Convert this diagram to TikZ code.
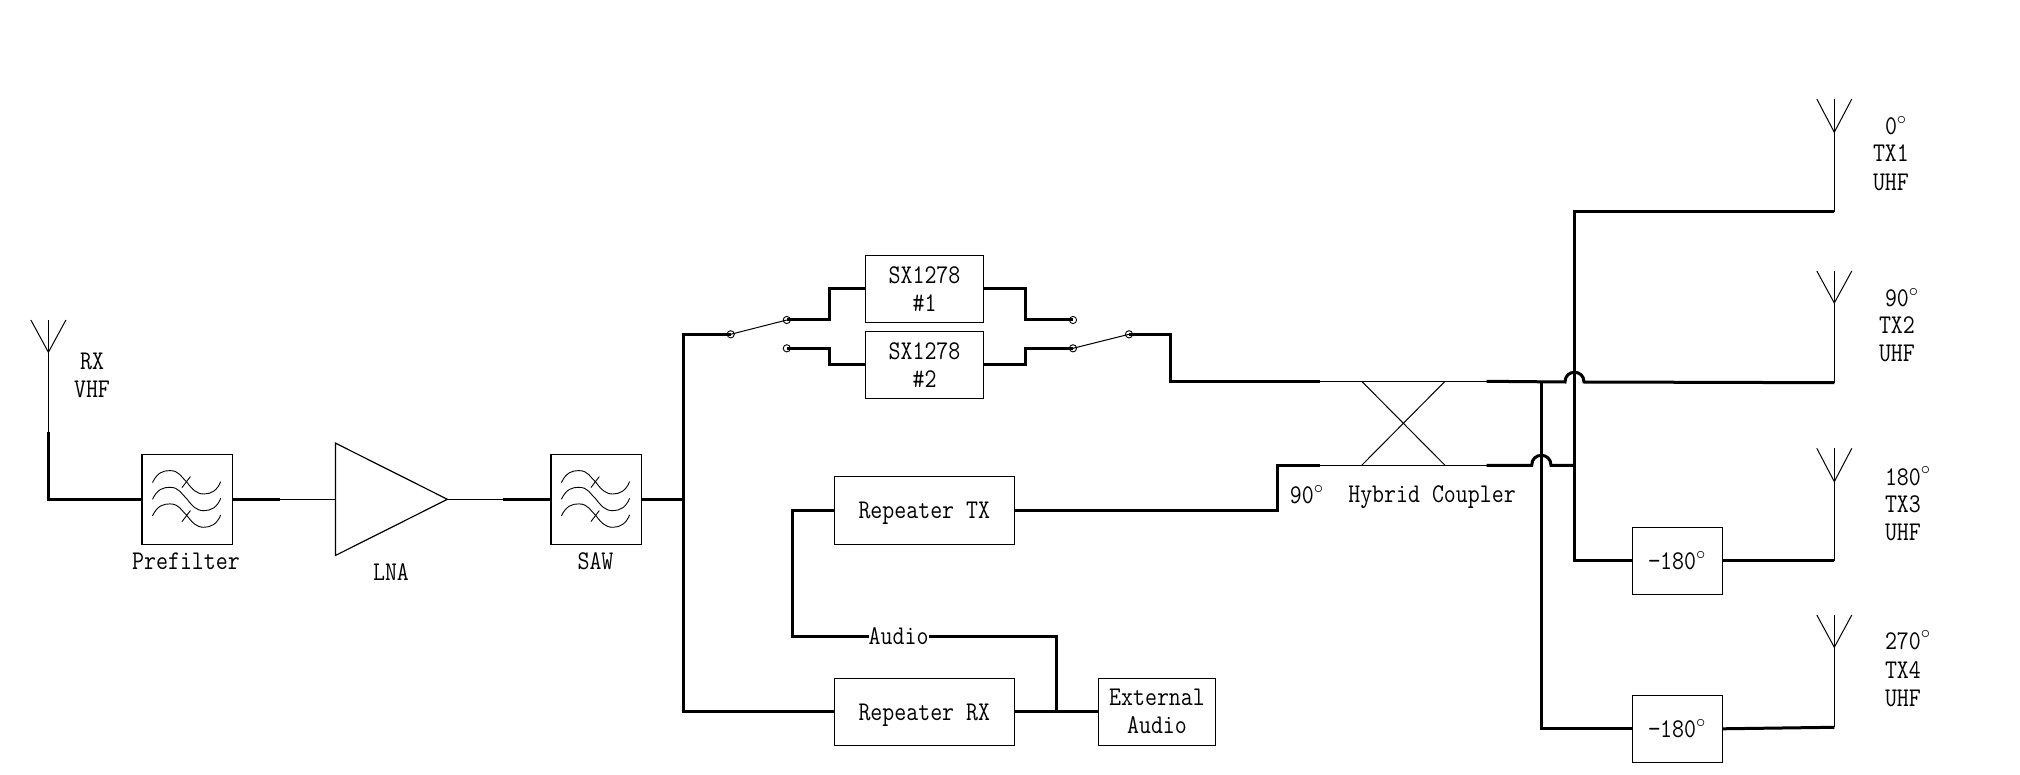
\documentclass[tikz,border=0pt]{standalone}
\usepackage{fontspec}
\newfontfamily\diagramfont[FakeStretch=0.86]{Latin Modern Mono}
\usetikzlibrary{shapes.geometric}
\tikzset{
  thinline/.style={line width=0.5pt,black},
  wire/.style={line width=1.5pt,black,line join=miter},
  txt/.style={font=\diagramfont\fontsize{13.5}{14}\selectfont,inner sep=0pt,outer sep=0pt,align=center,text=black},
  lab/.style={txt,anchor=base west},
  blockbox/.style={draw=black,line width=0.6pt,inner sep=0pt,outer sep=0pt,txt,minimum height=33.5pt},
  filterbox/.style={blockbox,minimum width=45.35pt,minimum height=45pt},
  contact/.style={circle,draw=black,line width=0.45pt,minimum size=3.6pt,inner sep=0pt,outer sep=0pt},
  filterglyph/.pic={
    \foreach \dy in {0,16.7,33.3}{
      \draw[line width=0.45pt] (-34.85,-16.7+\dy) .. controls (-30,-27+\dy) and (-24,-28.7+\dy) .. (-17.4,-28.7+\dy)
        .. controls (-8,-28.7+\dy) and (-6,-22+\dy) .. (-0.4,-17+\dy)
        .. controls (5,-10+\dy) and (9,-5.3+\dy) .. (16.6,-5.3+\dy)
        .. controls (24,-5.3+\dy) and (30,-9+\dy) .. (33.35,-17.7+\dy);
    }
    \draw[line width=0.45pt] (-5.35,-11.7) -- (3.05,-22.7);
    \draw[line width=0.45pt] (-5.35,22.3) -- (3.05,11.3);
  }
}
\newcommand{\antenna}[4]{% name, x, top y, junction y
  \coordinate (#1) at (#2,#4);
  \draw[thinline] (#2-17.5,#3) -- (#1) -- (#2+17.5,#3);
  \draw[thinline] (#2,#3) -- (#1);
}
\begin{document}
\begin{tikzpicture}[x=0.5pt,y=-0.5pt]
\useasboundingbox (0,0) rectangle (2020,775);
\fill[white] (0,0) rectangle (2020,775);

% antennas
\antenna{antRX}{48.4}{320}{352.3}
\antenna{antA}{1834.3}{99}{132.3}
\antenna{antB}{1834.3}{271}{303}
\antenna{antC}{1834.3}{448.3}{481.7}
\antenna{antD}{1834.3}{615}{647.3}

% blocks
\node[filterbox] (prefilter) at (187.35,499.3) {};
\pic at (prefilter.center) {filterglyph};
\node[filterbox] (saw) at (596.25,499.3) {};
\pic at (saw.center) {filterglyph};
\node[draw=black,line width=0.6pt,isosceles triangle,isosceles triangle stretches,shape border rotate=0,
      minimum width=56.2pt,minimum height=56pt,inner sep=0pt,outer sep=0pt,anchor=lower side] (lna) at (335.4,499.3) {};
\node[blockbox,minimum width=59.1pt] (sxa) at (924.5,288.8) {SX1278\\\#1};
\node[blockbox,minimum width=59.1pt] (sxb) at (924.5,364.8) {SX1278\\\#2};
\node[blockbox,minimum width=90.1pt,minimum height=34pt,text depth=0pt,text height=8.6pt] (rtx) at (924.3,510.3) {Repeater TX};
\node[blockbox,minimum width=90.1pt,text depth=0pt,text height=8.6pt] (rrx) at (924.3,711.8) {Repeater RX};
\node[blockbox,minimum width=58.65pt] (ext) at (1157,711.8) {External\\Audio};
\node[blockbox,minimum width=45pt] (psa) at (1677.3,560.8) {−180$^\circ$};
\node[blockbox,minimum width=45pt] (psb) at (1677.3,728.8) {−180$^\circ$};
\node[txt] (audio) at (898.6,636.3) {Audio};

% text labels
\node[txt] (tprefilter) at (186,561) {Prefilter};
\node[txt] (tlna) at (391,572.5) {LNA};
\node[txt] (tsaw) at (595.5,561) {SAW};
\node[txt] (trx) at (92,361) {RX};
\node[txt] (tvhf) at (92,389.5) {VHF};
\node[txt] (t90) at (1307,494.5) {90$^\circ$};
\node[txt] (thyb) at (1432,497) {Hybrid Coupler};
\node[lab] (la1) at (1885,135) {0$^\circ$};
\node[lab] (la2) at (1873,162) {TX1};
\node[lab] (la3) at (1873,191) {UHF};
\node[lab] (lb1) at (1885,307) {90$^\circ$};
\node[lab] (lb2) at (1879,334) {TX2};
\node[lab] (lb3) at (1879,362) {UHF};
\node[lab] (lc1) at (1885,485) {180$^\circ$};
\node[lab] (lc2) at (1885,512) {TX3};
\node[lab] (lc3) at (1885,540) {UHF};
\node[lab] (ld1) at (1885,649) {270$^\circ$};
\node[lab] (ld2) at (1885,678) {TX4};
\node[lab] (ld3) at (1885,706) {UHF};

% switch contacts
\node[contact] (swAp) at (730.7,334.3) {};
\node[contact] (swAu) at (786.8,320) {};
\node[contact] (swAd) at (786.8,348.3) {};
\node[contact] (swBu) at (1073,320) {};
\node[contact] (swBd) at (1073,348.3) {};
\node[contact] (swBp) at (1129,334.3) {};
\draw[thinline] (swAp.center) -- (swAu.center);
\draw[thinline] (swBd.center) -- (swBp.center);

% RX chain
\coordinate (rxKnee) at (48.4,431.7);
\coordinate (rxCorner) at (48.4,499.3);
\coordinate (preOut) at (280,499.3);
\coordinate (sawIn) at (503,499.3);
\coordinate (busTop) at (683.6,334.3);
\coordinate (busMid) at (683.6,499.3);
\coordinate (busBot) at (683.6,711.8);
\draw[thinline] (antRX) -- (rxKnee);
\draw[wire] (rxKnee) -- (rxCorner) -- (prefilter.west);
\draw[wire] (prefilter.east) -- (preOut);
\draw[thinline] (preOut) -- (lna.lower side);
\draw[thinline] (lna.apex) -- (sawIn);
\draw[wire] (sawIn) -- (saw.west);
\draw[wire] (saw.east) -- (busMid);
\draw[wire] (swAp.center) -- (busTop) -- (busBot) -- (rrx.west);

% SX1278 paths
\coordinate (sa1) at (829,320);
\coordinate (sa2) at (829,288.8);
\coordinate (sb1) at (829,348.3);
\coordinate (sb2) at (829,364.8);
\coordinate (sc1) at (1025.7,288.8);
\coordinate (sc2) at (1025.7,320);
\coordinate (sd1) at (1025.7,364.8);
\coordinate (sd2) at (1025.7,348.3);
\draw[wire] (swAu.center) -- (sa1) -- (sa2) -- (sxa.west);
\draw[wire] (swAd.center) -- (sb1) -- (sb2) -- (sxb.west);
\draw[wire] (sxa.east) -- (sc1) -- (sc2) -- (swBu.center);
\draw[wire] (sxb.east) -- (sd1) -- (sd2) -- (swBd.center);

% hybrid coupler
\coordinate (hTL) at (1320,381.3);
\coordinate (hTR) at (1486.7,381.3);
\coordinate (hBL) at (1320,465.3);
\coordinate (hBR) at (1486.7,465.3);
\coordinate (xTL) at (1361.7,381.3);
\coordinate (xTR) at (1445,381.3);
\coordinate (xBL) at (1361.7,465.3);
\coordinate (xBR) at (1445,465.3);
\draw[thinline] (hTL) -- (hTR);
\draw[thinline] (hBL) -- (hBR);
\draw[thinline] (xTL) -- (xBR);
\draw[thinline] (xTR) -- (xBL);
\coordinate (e1) at (1170.7,334.3);
\coordinate (e2) at (1170.7,381.3);
\draw[wire] (swBp.center) -- (e1) -- (e2) -- (hTL);
\coordinate (e3) at (1277.3,510.3);
\coordinate (e4) at (1277.3,465.3);
\draw[wire] (rtx.east) -- (e3) -- (e4) -- (hBL);

% audio
\coordinate (a1) at (792.4,510.3);
\coordinate (a2) at (792.4,636.3);
\coordinate (a3) at (1056.6,636.3);
\coordinate (a4) at (1056.6,711.8);
\draw[wire] (rtx.west) -- (a1) -- (a2) -- (audio.west);
\draw[wire] (audio.east) -- (a3) -- (a4);
\draw[wire] (rrx.east) -- (ext.west);

% hybrid outputs
\coordinate (outA) at (1834.3,211.7);
\coordinate (outB) at (1834.3,382.7);
\coordinate (outC) at (1834.3,560.8);
\coordinate (outD) at (1834.3,727.3);
\coordinate (vA) at (1574.3,211.7);
\coordinate (vC) at (1574.3,560.8);
\coordinate (vB) at (1541.7,381.3);
\coordinate (vD) at (1541.7,728.8);
\draw[thinline] (antA) -- (outA);
\draw[thinline] (antB) -- (outB);
\draw[thinline] (antC) -- (outC);
\draw[thinline] (antD) -- (outD);
\draw[wire] (outA) -- (vA) -- (vC) -- (psa.west);
\draw[wire] (vB) -- (vD) -- (psb.west);
\draw[wire] (psa.east) -- (outC);
\draw[wire] (psb.east) -- (outD);
\coordinate (j1) at (1565,382);
\coordinate (j2) at (1584,382);
\draw[wire] (hTR) -- (j1) .. controls (1565,369) and (1584,369) .. (j2) -- (outB);
\coordinate (j3) at (1531.7,465.3);
\coordinate (j4) at (1551,465.3);
\coordinate (j5) at (1574.3,465.3);
\draw[wire] (hBR) -- (j3) .. controls (1531.7,452) and (1551,452) .. (j4) -- (j5);
\end{tikzpicture}
\end{document}
